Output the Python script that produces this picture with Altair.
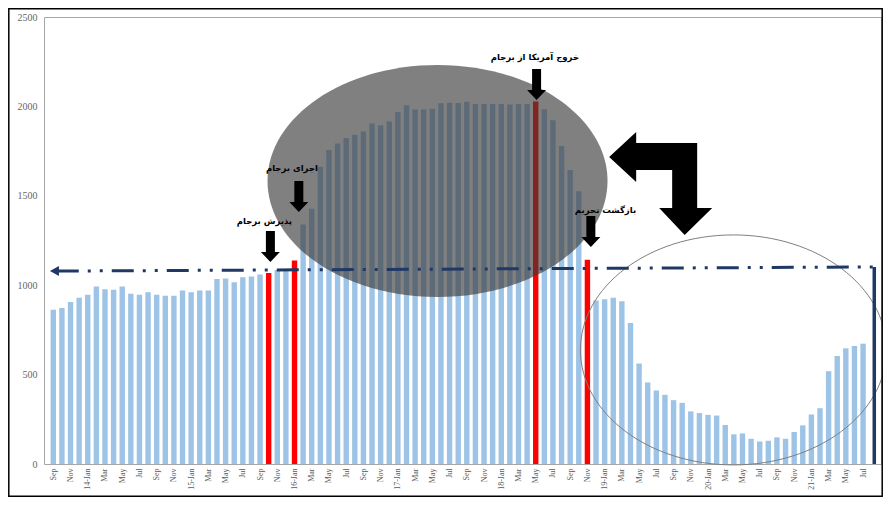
import json
import altair as alt
import pandas as pd

# ---- data -------------------------------------------------------------
values = [863, 872, 906, 930, 947, 993, 978, 975, 993, 952,
          947, 960, 947, 941, 941, 971, 960, 971, 971, 1034,
          1038, 1016, 1045, 1049, 1060, 1068, 1085, 1088, 1138, 1340,
          1427, 1663, 1756, 1793, 1823, 1841, 1860, 1905, 1895, 1916,
          1968, 2007, 1983, 1983, 1987, 2017, 2020, 2019, 2026, 2013,
          2013, 2013, 2013, 2010, 2013, 2013, 2028, 1984, 1923, 1778,
          1644, 1525, 1142, 915, 921, 930, 910, 789, 562, 456,
          411, 387, 357, 342, 294, 285, 275, 271, 218, 166,
          171, 141, 126, 130, 149, 141, 179, 216, 277, 312,
          519, 604, 647, 660, 673]
red_idx = [25, 28, 56, 62]

month_abbr = ["Jan", "Feb", "Mar", "Apr", "May", "Jun",
              "Jul", "Aug", "Sep", "Oct", "Nov", "Dec"]
n_slots = 96  # Sep 2013 .. Aug 2021
tick_labels = []
for k in range(n_slots):
    m = (8 + k) % 12
    yr = 2013 + (8 + k) // 12
    tick_labels.append(f"{yr % 100}-Jan" if m == 0 else month_abbr[m])

events = ["پذیرش برجام", "اجرای برجام", "خروج آمریکا از برجام", "بازگشت تحریم"]
arrow_i = [25.2, 28.5, 56.1, 62.4]
arrow_v = [1130, 1409, 2036, 1214]
label_i = [24.5, 27.7, 55.9, 64.1]
label_v = [1359, 1655, 2276, 1421]

ref_i = [0.4, 95.3]
ref_v = [1079, 1102]

# ---- tables -----------------------------------------------------------
bars = pd.DataFrame({
    "i": list(range(len(values))),
    "v": values,
    "c": ["#ff0000" if k in red_idx else "#9dc3e6" for k in range(len(values))],
})
arrows = pd.DataFrame({"i": arrow_i, "v": arrow_v})
labels = pd.DataFrame({"i": label_i, "v": label_v, "t": events})
refline = pd.DataFrame({"i": ref_i, "v": ref_v})
one = pd.DataFrame({"i": [0]})

W, H = 837, 447
xscale = alt.Scale(domain=[-0.5, 95.5], nice=False, zero=False)
yscale = alt.Scale(domain=[0, 2500], nice=False)

label_expr = json.dumps(tick_labels) + "[datum.value]"
x_ticks = list(range(0, 95, 2))

X = alt.X("i:Q", scale=xscale, axis=alt.Axis(
    values=x_ticks, tickCount=len(x_ticks) + 2, labelExpr=label_expr,
    labelAngle=-90, ticks=False, domain=False, grid=False, title=None,
    labelFontSize=8, labelFont="Liberation Serif", labelColor="#595959",
    labelPadding=4, labelOverlap=False))
Y = alt.Y("v:Q", scale=yscale, axis=alt.Axis(
    values=[0, 500, 1000, 1500, 2000, 2500], format="d", ticks=False,
    domain=False, grid=False, title=None, labelFontSize=10,
    labelFont="Liberation Serif", labelColor="#666666", labelPadding=7))


def ellipse_path(rx, ry):
    k = 0.5523
    return (f"M {-rx} 0 C {-rx} {-k*ry:.1f} {-k*rx:.1f} {-ry} 0 {-ry} "
            f"C {k*rx:.1f} {-ry} {rx} {-k*ry:.1f} {rx} 0 "
            f"C {rx} {k*ry:.1f} {k*rx:.1f} {ry} 0 {ry} "
            f"C {-k*rx:.1f} {ry} {-rx} {k*ry:.1f} {-rx} 0 Z")


down_arrow = "M -4.5 -31 L 4.5 -31 L 4.5 -10 L 9.5 -10 L 0 0 L -9.5 -10 L -4.5 -10 Z"
bent_arrow = ("M -73 -24 L -46 -49 L -46 -38 L 15 -38 L 15 27 L 30 27 L 2.5 54 "
              "L -23 27 L -10 27 L -10 -11 L -46 -11 L -46 1 Z")
left_head = "M 0 0 L 9 -5 L 9 5 Z"

XQ = alt.X("i:Q", scale=xscale)
YQ = alt.Y("v:Q", scale=yscale)

bar_layer = alt.Chart(bars).mark_bar(size=5.4).encode(
    x=X, y=Y, color=alt.Color("c:N", scale=None))

gray_ellipse = alt.Chart(pd.DataFrame({"i": [44.6], "v": [1583]})).mark_point(
    shape=ellipse_path(170, 116), size=4, filled=True, fill="#383838",
    fillOpacity=0.64, strokeWidth=0, opacity=1).encode(x=XQ, y=YQ)

outline_ellipse = alt.Chart(pd.DataFrame({"i": [78.95], "v": [638]})).mark_point(
    shape=ellipse_path(153, 115), size=4, filled=False, stroke="#7f7f7f",
    strokeWidth=1, opacity=1).encode(x=XQ, y=YQ)

dash_line = alt.Chart(refline).mark_line(
    color="#1f3864", strokeWidth=3, strokeDash=[22, 9, 3, 9, 3, 9]).encode(
    x=XQ, y=YQ)

vert_line = alt.Chart(pd.DataFrame({"i": [ref_i[1]], "v": [ref_v[1]], "z": [0]})).mark_rule(
    color="#1f3864", strokeWidth=3.5).encode(x=XQ, y=YQ, y2="z:Q")

head = alt.Chart(pd.DataFrame({"i": [-0.39], "v": [ref_v[0]]})).mark_point(
    shape=left_head, size=4, filled=True, fill="#1f3864", strokeWidth=0,
    opacity=1).encode(x=XQ, y=YQ)

arrow_layer = alt.Chart(arrows).mark_point(
    shape=down_arrow, size=4, filled=True, fill="#000000", strokeWidth=0,
    opacity=1).encode(x=XQ, y=YQ)

bent = alt.Chart(pd.DataFrame({"i": [73.0], "v": [1583]})).mark_point(
    shape=bent_arrow, size=4, filled=True, fill="#000000", strokeWidth=0,
    opacity=1).encode(x=XQ, y=YQ)

text_layer = alt.Chart(labels).mark_text(
    font="DejaVu Sans", fontWeight="bold", fontSize=8.5, color="#000000",
    align="center", baseline="middle").encode(x=XQ, y=YQ, text="t:N")

frame = alt.Chart(one).mark_rect(
    fillOpacity=0, stroke="#000000", strokeWidth=1.5).encode(
    x=alt.value(-35.2), x2=alt.value(W + 1.2), y=alt.value(-8.2), y2=alt.value(H + 32.2))

chart = alt.layer(
    bar_layer, gray_ellipse, outline_ellipse, dash_line, vert_line, head,
    arrow_layer, bent, text_layer, frame
).properties(
    width=W, height=H,
    autosize=alt.AutoSizeParams(type="none"),
    padding={"left": 36, "top": 9, "right": 2, "bottom": 33},
    background="#ffffff",
).configure_view(stroke="#a6a6a6", strokeWidth=1)

chart.save("out.html", embed_options={"renderer": "svg", "actions": False})
